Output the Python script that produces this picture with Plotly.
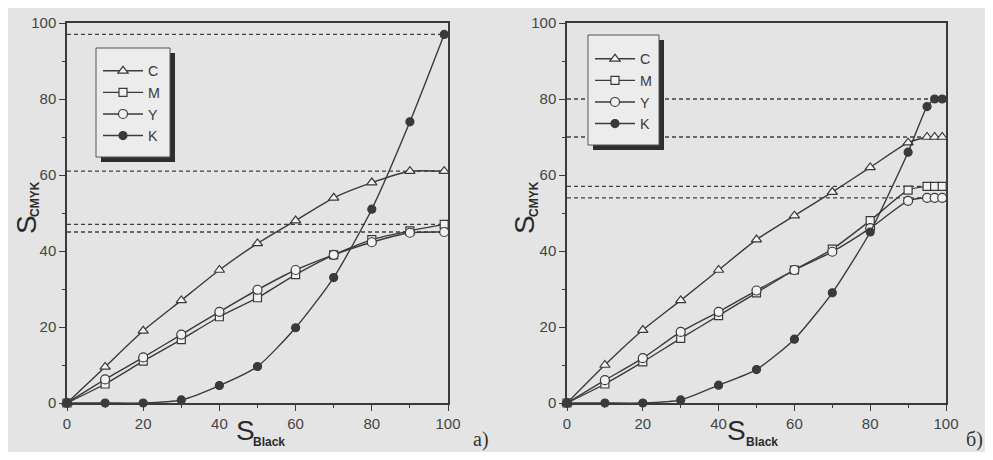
import plotly.graph_objects as go

# ---------------- data ----------------
x_a = [0, 10, 20, 30, 40, 50, 60, 70, 80, 90, 99]
C_a = [0, 9.5, 19, 27, 35, 42, 48, 54, 58, 61, 61]
M_a = [0, 5, 11, 16.7, 22.7, 27.7, 33.8, 39, 43, 45.3, 47]
Y_a = [0, 6.2, 12, 18, 24, 29.8, 35, 39, 42.3, 44.8, 45]
K_a = [0, 0, 0, 0.8, 4.6, 9.6, 19.8, 33, 51, 74, 97]
levels_a = [97, 61, 47, 45]

x_b = [0, 10, 20, 30, 40, 50, 60, 70, 80, 90, 95, 97, 99]
C_b = [0, 10, 19.2, 27, 35, 43, 49.3, 55.5, 62, 68.5, 70, 70, 70]
M_b = [0, 5, 10.8, 17, 23, 29, 35, 40.5, 48, 56, 57, 57, 57]
Y_b = [0, 6, 11.8, 18.7, 24, 29.6, 35, 39.8, 46, 53.2, 54, 54, 54]
K_b = [0, 0, 0, 0.8, 4.7, 8.8, 16.8, 29, 45, 66, 78, 80, 80]
levels_b = [80, 70, 57, 54]

series_names = ["C", "M", "Y", "K"]
tick_vals = [0, 20, 40, 60, 80, 100]
tick_text = ["0", "20", "40", "60", "80", "100"]
panel_labels = ["а)", "б)"]

# ---------------- style ----------------
# the page body has an 8px margin, so the figure is sized to fit inside it
OFF = 8
W, H = 993 - 2 * OFF, 460 - 2 * OFF
BG = "#e4e4e4"
INK = "#3a3a3a"
MARK_FILL = "#f2f2f2"
symbols = {"C": "triangle-up", "M": "square", "Y": "circle", "K": "circle"}
sizes = {"C": 9, "M": 8, "Y": 9, "K": 8}


def px(x):
    return (x - OFF) / W


def py(y):
    return 1 - (y - OFF) / H


fig = go.Figure()

panels = [
    (x_a, [C_a, M_a, Y_a, K_a], levels_a, "x", "y", "legend"),
    (x_b, [C_b, M_b, Y_b, K_b], levels_b, "x2", "y2", "legend2"),
]

for xs, ys_list, levels, xa, ya, leg in panels:
    # dashed reference levels
    for lv in levels:
        fig.add_trace(go.Scatter(
            x=[0, xs[-1]], y=[lv, lv], mode="lines", xaxis=xa, yaxis=ya,
            line=dict(color="#404040", width=1.3, dash="4px,3px"),
            showlegend=False, hoverinfo="skip"))
    for name, ys in zip(series_names, ys_list):
        filled = name == "K"
        fig.add_trace(go.Scatter(
            x=xs, y=ys, name=name, mode="lines+markers", xaxis=xa, yaxis=ya,
            legend=leg, cliponaxis=False,
            line=dict(color=INK, width=1.4, shape="spline", smoothing=0.6),
            marker=dict(symbol=symbols[name], size=sizes[name],
                        color=INK if filled else MARK_FILL,
                        line=dict(color=INK, width=1.2))))

axis_common = dict(
    range=[0, 100], tickvals=tick_vals, ticktext=tick_text,
    ticks="outside", ticklen=6, tickwidth=1.3, tickcolor=INK,
    minor=dict(dtick=10, ticks="outside", ticklen=3, tickcolor=INK, tickwidth=1.2),
    showline=True, linecolor=INK, linewidth=1.5, mirror=True,
    showgrid=False, zeroline=False, automargin=False,
    tickfont=dict(family="Liberation Sans, Arial", size=15, color="#444444"),
)

legend_common = dict(xanchor="left", yanchor="top",
                     bgcolor="rgba(0,0,0,0)", borderwidth=0, itemwidth=40,
                     tracegroupgap=0,
                     font=dict(family="Liberation Sans, Arial", size=14.3, color=INK))

fig.update_layout(
    width=W, height=H,
    margin=dict(l=0, r=0, t=0, b=0, autoexpand=False),
    paper_bgcolor=BG, plot_bgcolor=BG,
    showlegend=True,
    xaxis=dict(domain=[px(67), px(448)], anchor="y", **axis_common),
    yaxis=dict(domain=[py(403), py(23)], anchor="x", **axis_common),
    xaxis2=dict(domain=[px(567), px(946)], anchor="y2", **axis_common),
    yaxis2=dict(domain=[py(403), py(23)], anchor="x2", **axis_common),
    legend=dict(x=px(98), y=py(55), **legend_common),
    legend2=dict(x=px(590), y=py(43), **legend_common),
)

# legend boxes with drop shadows
shapes = []
for (x0, y0, x1, y1) in [(96, 48, 170, 157), (588, 35, 659, 145)]:
    shapes.append(dict(type="rect", xref="paper", yref="paper",
                       x0=px(x0 + 5), x1=px(x1 + 5), y0=py(y1 + 5), y1=py(y0 + 5),
                       fillcolor="#2e2e2e", line=dict(width=0), layer="above"))
    shapes.append(dict(type="rect", xref="paper", yref="paper",
                       x0=px(x0), x1=px(x1), y0=py(y1), y1=py(y0),
                       fillcolor="#ececec", line=dict(color="#555555", width=1),
                       layer="above"))
fig.update_layout(shapes=shapes)

ann = []
title_font = dict(family="Liberation Sans, Arial", size=28, color="#2a2a2a")
sub_font = dict(family="Liberation Sans, Arial", size=12, color="#2a2a2a")
common = dict(xref="paper", yref="paper", showarrow=False,
              xanchor="center", yanchor="middle")
for sx, bx, yx_s, yx_c in [(245, 269, 26, 35), (736, 762, 524, 534)]:
    ann.append(dict(text="S", x=px(sx), y=py(430), font=title_font, **common))
    ann.append(dict(text="<b>Black</b>", x=px(bx), y=py(442), font=sub_font, **common))
    ann.append(dict(text="S", x=px(yx_s), y=py(225), font=title_font,
                    textangle=-90, **common))
    ann.append(dict(text="<b>CMYK</b>", x=px(yx_c), y=py(199), font=sub_font,
                    textangle=-90, **common))
for lab, lx in zip(panel_labels, [481, 974]):
    ann.append(dict(text=lab, x=px(lx), y=py(439),
                    font=dict(family="Liberation Serif, Times New Roman", size=20,
                              color="#333333"), **common))
fig.update_layout(annotations=ann)

fig.write_html("out.html")
